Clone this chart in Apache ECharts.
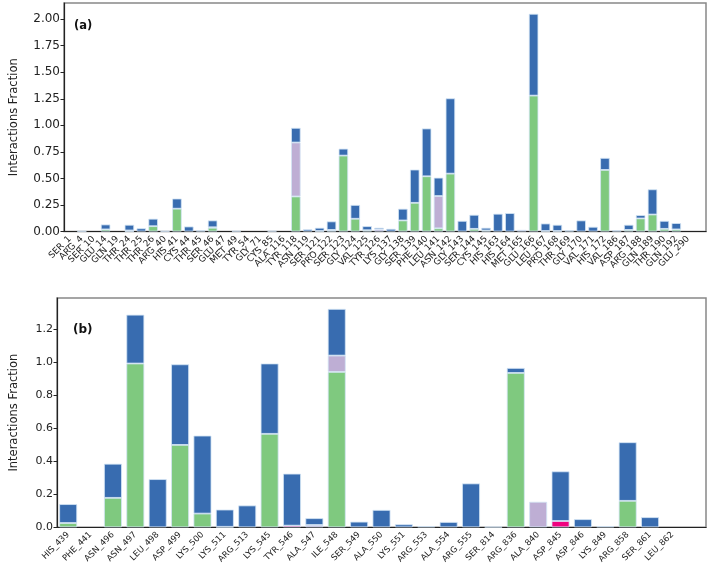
<!DOCTYPE html>
<html>
<head>
<meta charset="utf-8">
<script src="https://cdn.jsdelivr.net/npm/echarts@6/dist/echarts.min.js"></script>
<style>
html,body{margin:0;padding:0;background:#fff;}
#chart{width:709px;height:574px;}
</style>
</head>
<body>
<div id="chart"></div>
<script>
// ---------- Panel (a) ----------
const catsA = ['SER_1','ARG_4','SER_10','GLU_14','GLN_19','THR_24','THR_25','THR_26','ARG_40','HIS_41','CYS_44','THR_45','SER_46','GLU_47','MET_49','TYR_54','GLY_71','CYS_85','ALA_116','TYR_118','ASN_119','SER_121','PRO_122','SER_123','GLY_124','VAL_125','TYR_126','LYS_137','GLY_138','SER_139','PHE_140','LEU_141','ASN_142','GLY_143','SER_144','CYS_145','HIS_163','HIS_164','MET_165','GLU_166','LEU_167','PRO_168','THR_169','GLY_170','VAL_171','HIS_172','VAL_186','ASP_187','ARG_188','GLN_189','THR_190','GLN_192','GLU_290'];
const hbondA = [0,0,0,0.02,0,0,0,0.05,0,0.215,0,0,0.035,0,0,0,0,0,0,0.33,0,0.005,0.01,0.715,0.12,0.012,0,0,0.104,0.27,0.52,0.03,0.545,0,0.025,0.01,0,0,0,1.28,0.005,0.005,0,0,0,0.58,0,0.015,0.123,0.16,0.025,0.02,0];
const hydroA = [0,0,0,0,0,0.005,0,0,0,0,0,0,0,0,0,0,0,0,0,0.508,0,0,0,0,0,0,0.02,0,0,0,0,0.304,0,0,0,0,0,0,0.015,0,0,0,0,0,0,0,0,0,0,0,0,0,0];
const ionicA = [0,0,0,0,0,0.005,0,0,0,0,0,0,0.005,0,0,0,0,0,0,0,0,0,0.005,0,0,0,0,0,0,0,0,0,0,0,0,0,0,0,0,0,0,0,0,0,0,0,0,0,0,0,0,0,0];
const waterA = [0,0.004,0,0.046,0,0.053,0.03,0.07,0.004,0.095,0.047,0.01,0.064,0,0.006,0,0,0.006,0,0.138,0.02,0.03,0.08,0.065,0.13,0.038,0.015,0.025,0.11,0.313,0.45,0.173,0.709,0.1,0.132,0.025,0.167,0.173,0,0.77,0.07,0.058,0.01,0.104,0.044,0.113,0.01,0.048,0.031,0.237,0.075,0.059,0];
const ticksA = [0,0.25,0.5,0.75,1.0,1.25,1.5,1.75,2.0];

// ---------- Panel (b) ----------
const catsB = ['HIS_439','PHE_441','ASN_496','ASN_497','LEU_498','ASP_499','LYS_500','LYS_511','ARG_513','LYS_545','TYR_546','ALA_547','ILE_548','SER_549','ALA_550','LYS_551','ARG_553','ALA_554','ARG_555','SER_814','ARG_836','ALA_840','ASP_845','ASP_846','LYS_849','ARG_858','SER_861','LEU_862'];
const hbondB = [0.026,0,0.178,0.99,0,0.498,0.083,0,0,0.565,0,0,0.939,0,0,0,0,0,0,0,0.933,0,0,0,0,0.16,0,0];
const hydroB = [0,0,0,0,0,0,0,0,0,0,0,0.014,0.099,0,0,0,0,0,0,0,0,0.154,0,0,0,0,0,0];
const ionicB = [0,0,0,0,0,0,0,0.003,0,0,0.01,0,0,0,0,0,0,0,0,0,0,0,0.038,0,0,0,0,0];
const waterB = [0.114,0,0.206,0.295,0.291,0.487,0.471,0.104,0.132,0.425,0.314,0.041,0.282,0.034,0.105,0.018,0.006,0.032,0.265,0.003,0.03,0,0.30,0.049,0.006,0.354,0.061,0];
const ticksB = [0,0.2,0.4,0.6,0.8,1.0,1.2];

const colors = {hbond:'#7fc97f', hydro:'#beaed4', ionic:'#f0027f', water:'#386cb0'};
const FONT = 'DejaVu Sans';
const TXT = '#222';

function prep(arr){ return arr.map(v => v === 0 ? '-' : v).concat(['-']); }

function makeSeries(idx, stack, hb, hy, io, wa){
  const defs = [['H-bonds', hb, colors.hbond], ['Hydrophobic', hy, colors.hydro], ['Ionic', io, colors.ionic], ['Water bridges', wa, colors.water]];
  return defs.map(([name, d, c]) => ({
    name: name, type: 'bar', stack: stack, xAxisIndex: idx, yAxisIndex: idx,
    barWidth: '80%', data: prep(d),
    itemStyle: {color: c, borderColor: '#d3e5f5', borderWidth: 0.8},
    emphasis: {disabled: true}, animation: false
  }));
}

function xAxisOf(idx, cats, fs){
  return {
    type: 'category', gridIndex: idx, data: cats.concat(['']),
    boundaryGap: true,
    axisLine: {lineStyle: {color: TXT, width: 1.2}},
    axisTick: {alignWithLabel: true, length: 3.5, interval: (i, v) => v !== '', lineStyle: {color: TXT, width: 1}},
    axisLabel: {rotate: 45, interval: 0, fontSize: fs, margin: 6, color: TXT, fontFamily: FONT},
    splitLine: {show: false}
  };
}

function yAxisOf(idx, max, ticks, dec, fs, gap){
  return {
    type: 'value', gridIndex: idx, min: 0, max: max,
    name: 'Interactions Fraction', nameLocation: 'middle', nameRotate: 90, nameGap: gap,
    nameTextStyle: {fontSize: 11.5, color: TXT, fontFamily: FONT},
    axisLine: {show: true, lineStyle: {color: TXT, width: 1.2}},
    axisTick: {show: true, length: 3.5, customValues: ticks, lineStyle: {color: TXT}},
    axisLabel: {customValues: ticks, formatter: v => v.toFixed(dec), fontSize: fs, margin: 4, color: TXT, fontFamily: FONT},
    splitLine: {show: false}
  };
}

const chart = echarts.init(document.getElementById('chart'), null, {renderer: 'canvas'});
chart.setOption({
  backgroundColor: '#fff',
  animation: false,
  textStyle: {fontFamily: FONT},
  grid: [
    {left: 52, right: 3, top: 3, height: 228.5, show: true, borderColor: '#888', borderWidth: 1.5, backgroundColor: 'transparent'},
    {left: 52, right: 3, top: 298, height: 229.3, show: true, borderColor: '#888', borderWidth: 1.5, backgroundColor: 'transparent'}
  ],
  xAxis: [xAxisOf(0, catsA, 9), xAxisOf(1, catsB, 8.5)],
  yAxis: [yAxisOf(0, 2.152, ticksA, 2, 12, 44), yAxisOf(1, 1.386, ticksB, 1, 11, 37)],
  graphic: [
    {type: 'text', left: 74, top: 20, style: {text: '(a)', font: 'bold 11.5px "DejaVu Sans"', fill: '#111'}},
    {type: 'text', left: 73, top: 324, style: {text: '(b)', font: 'bold 12px "DejaVu Sans"', fill: '#111'}}
  ],
  series: makeSeries(0, 'a', hbondA, hydroA, ionicA, waterA).concat(makeSeries(1, 'b', hbondB, hydroB, ionicB, waterB))
});
</script>
</body>
</html>
